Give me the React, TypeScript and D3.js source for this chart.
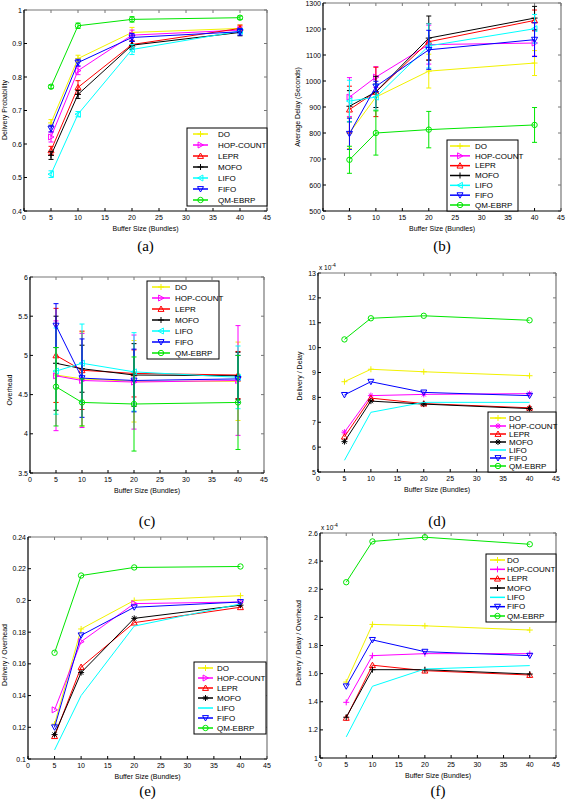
import React from "react";
import * as d3 from "d3";

const bufferSizes = [5, 10, 20, 40];
const seriesNames = ["DO", "HOP-COUNT", "LEPR", "MOFO", "LIFO", "FIFO", "QM-EBRP"];
const seriesColors = ["#f2f200", "#ff00ff", "#ff0000", "#000000", "#00ffff", "#0000ff", "#00e600"];
const xTicks = [0, 5, 10, 15, 20, 25, 30, 35, 40, 45];

// (a) Delivery Probability
const probValues = [
  [0.663, 0.855, 0.933, 0.945],
  [0.621, 0.819, 0.925, 0.94],
  [0.581, 0.769, 0.897, 0.945],
  [0.566, 0.748, 0.895, 0.933],
  [0.51, 0.689, 0.882, 0.937],
  [0.646, 0.843, 0.918, 0.935],
  [0.771, 0.953, 0.972, 0.977],
];
const probErrors = [
  [0.01, 0.01, 0.015, 0.01],
  [0.015, 0.012, 0.015, 0.01],
  [0.012, 0.02, 0.01, 0.01],
  [0.012, 0.012, 0.012, 0.01],
  [0.01, 0.008, 0.015, 0.008],
  [0.01, 0.01, 0.012, 0.01],
  [0.005, 0.008, 0.008, 0.005],
];
const probTicks = [0.4, 0.5, 0.6, 0.7, 0.8, 0.9, 1];

// (b) Average Delay
const delayValues = [
  [800, 938, 1038, 1069],
  [938, 1015, 1140, 1146],
  [890, 958, 1151, 1233],
  [903, 958, 1165, 1242],
  [923, 938, 1135, 1201],
  [797, 979, 1120, 1159],
  [697, 800, 813, 831],
];
const delayErrors = [
  [60, 50, 65, 48],
  [75, 40, 75, 50],
  [90, 95, 70, 40],
  [60, 60, 85, 45],
  [80, 50, 85, 55],
  [60, 20, 75, 65],
  [52, 85, 70, 67],
];
const delayTicks = [500, 600, 700, 800, 900, 1000, 1100, 1200, 1300];

// (c) Overhead
const overheadValues = [
  [4.75, 4.7, 4.67, 4.67],
  [4.74, 4.68, 4.66, 4.68],
  [5.0, 4.81, 4.77, 4.75],
  [4.9, 4.83, 4.75, 4.74],
  [4.8, 4.9, 4.79, 4.72],
  [5.38, 4.71, 4.68, 4.7],
  [4.6, 4.4, 4.38, 4.4],
];
const overheadErrors = [
  [0.35, 0.6, 0.52, 0.5],
  [0.7, 0.6, 0.6, 0.7],
  [0.6, 0.5, 0.3, 0.3],
  [0.6, 0.3, 0.4, 0.3],
  [0.55, 0.5, 0.5, 0.4],
  [0.28, 0.5, 0.4, 0.3],
  [0.5, 0.3, 0.6, 0.6],
];
const overheadTicks = [3.5, 4, 4.5, 5, 5.5, 6];

// (d) Delivery / Delay (x 10^-4)
const ratioDelayValues = [
  [8.63, 9.13, 9.03, 8.87],
  [6.6, 8.07, 8.12, 8.15],
  [6.42, 7.97, 7.75, 7.58],
  [6.22, 7.85, 7.73, 7.55],
  [5.47, 7.4, 7.8, 7.8],
  [8.1, 8.63, 8.2, 8.07],
  [10.33, 11.18, 11.28, 11.1],
];
const ratioDelayTicks = [5, 6, 7, 8, 9, 10, 11, 12, 13];

// (e) Delivery / Overhead
const ratioOverheadValues = [
  [0.122, 0.182, 0.2, 0.203],
  [0.131, 0.174, 0.198, 0.199],
  [0.1144, 0.158, 0.186, 0.1957],
  [0.1154, 0.1545, 0.1887, 0.197],
  [0.1057, 0.14, 0.1838, 0.1978],
  [0.12, 0.178, 0.1957, 0.199],
  [0.167, 0.2157, 0.2208, 0.2214],
];
const ratioOverheadTicks = [0.1, 0.12, 0.14, 0.16, 0.18, 0.2, 0.22, 0.24];

// (f) Delivery / Delay / Overhead (x 10^-4)
const ratioBothValues = [
  [1.54, 1.95, 1.94, 1.91],
  [1.396, 1.728, 1.742, 1.742],
  [1.285, 1.66, 1.621, 1.59],
  [1.29, 1.628, 1.628, 1.597],
  [1.15, 1.51, 1.633, 1.657],
  [1.51, 1.84, 1.756, 1.728],
  [2.25, 2.54, 2.57, 2.52],
];
const ratioBothTicks = [1, 1.2, 1.4, 1.6, 1.8, 2, 2.2, 2.4, 2.6];

type LegendBox = { x: number; y: number; w: number; h: number; l0: number; l1: number; tx: number };
type PanelProps = {
  left: number; right: number; top: number; bottom: number;
  ticks: number[]; values: number[][]; errors?: number[][];
  markers: string[]; ylabel: string; ylx: number; yly: number;
  caption: string; capY: number; legend: LegendBox; exponent?: boolean;
};

const sans = "Liberation Sans, Arial, sans-serif";

function Marker({ type, x, y, color, s = 3 }: { type: string; x: number; y: number; color: string; s?: number }) {
  const common = { fill: "none", stroke: color, strokeWidth: 1 };
  if (type === "+") return <path d={`M${x - s},${y}H${x + s}M${x},${y - s}V${y + s}`} {...common} />;
  if (type === "*")
    return <path d={`M${x - s},${y}H${x + s}M${x},${y - s}V${y + s}M${x - s * 0.7},${y - s * 0.7}L${x + s * 0.7},${y + s * 0.7}M${x - s * 0.7},${y + s * 0.7}L${x + s * 0.7},${y - s * 0.7}`} {...common} />;
  if (type === "o") return <circle cx={x} cy={y} r={s * 0.9} {...common} />;
  if (type === "^") return <path d={`M${x},${y - s}L${x + s},${y + s * 0.8}L${x - s},${y + s * 0.8}Z`} {...common} />;
  if (type === "v") return <path d={`M${x},${y + s}L${x + s},${y - s * 0.8}L${x - s},${y - s * 0.8}Z`} {...common} />;
  if (type === ">") return <path d={`M${x + s},${y}L${x - s * 0.8},${y - s}L${x - s * 0.8},${y + s}Z`} {...common} />;
  if (type === "<") return <path d={`M${x - s},${y}L${x + s * 0.8},${y - s}L${x + s * 0.8},${y + s}Z`} {...common} />;
  return null;
}

function Panel(p: PanelProps) {
  const x = d3.scaleLinear().domain([0, 45]).range([p.left, p.right]);
  const y = d3.scaleLinear().domain([p.ticks[0], p.ticks[p.ticks.length - 1]]).range([p.bottom, p.top]);
  const line = d3.line<number>().x((_, i) => x(bufferSizes[i])).y((v) => y(v));
  const fmt = (v: number) => String(+v.toFixed(3));
  const tl = 3;
  const midX = (p.left + p.right) / 2;
  return (
    <g>
      {/* ticks */}
      {xTicks.map((t) => (
        <g key={"x" + t}>
          <line x1={x(t)} x2={x(t)} y1={p.bottom} y2={p.bottom - tl} stroke="#000" />
          <line x1={x(t)} x2={x(t)} y1={p.top} y2={p.top + tl} stroke="#777" />
          <text x={x(t)} y={p.bottom + 9} fontSize={7} fontFamily={sans} textAnchor="middle">{t}</text>
        </g>
      ))}
      {p.ticks.map((t) => (
        <g key={"y" + t}>
          <line x1={p.left} x2={p.left + tl} y1={y(t)} y2={y(t)} stroke="#000" />
          <line x1={p.right} x2={p.right - tl} y1={y(t)} y2={y(t)} stroke="#777" />
          <text x={p.left - 2} y={y(t) + 2.5} fontSize={7} fontFamily={sans} textAnchor="end">{fmt(t)}</text>
        </g>
      ))}
      {/* box */}
      <line x1={p.left} x2={p.right} y1={p.top} y2={p.top} stroke="#777" strokeWidth={1.2} />
      <line x1={p.right} x2={p.right} y1={p.top} y2={p.bottom} stroke="#777" strokeWidth={1.2} />
      <line x1={p.left} x2={p.left} y1={p.top} y2={p.bottom} stroke="#000" strokeWidth={1.2} />
      <line x1={p.left} x2={p.right} y1={p.bottom} y2={p.bottom} stroke="#000" strokeWidth={1.2} />
      {/* series */}
      {p.values.map((vals, si) => (
        <g key={si}>
          <path d={line(vals) || ""} fill="none" stroke={seriesColors[si]} strokeWidth={1} />
          {p.errors &&
            vals.map((v, i) => {
              const cx = x(bufferSizes[i]);
              const e = p.errors![si][i];
              const y0 = y(v - e), y1 = y(v + e);
              return (
                <path key={i} d={`M${cx},${y0}V${y1}M${cx - 2.5},${y0}H${cx + 2.5}M${cx - 2.5},${y1}H${cx + 2.5}`} stroke={seriesColors[si]} fill="none" strokeWidth={1} />
              );
            })}
          {vals.map((v, i) => (
            <Marker key={"m" + i} type={p.markers[si]} x={x(bufferSizes[i])} y={y(v)} color={seriesColors[si]} />
          ))}
        </g>
      ))}
      {/* labels */}
      <text x={midX} y={p.bottom + 20} fontSize={7} fontFamily={sans} textAnchor="middle">Buffer Size (Bundles)</text>
      <text transform={`translate(${p.ylx},${p.yly}) rotate(-90)`} fontSize={7} fontFamily={sans} textAnchor="middle" dy="0.35em">{p.ylabel}</text>
      {p.exponent && (
        <text x={p.left + 1} y={p.top - 3} fontSize={6.5} fontFamily={sans}>
          x 10<tspan dy={-3} fontSize={5}>-4</tspan>
        </text>
      )}
      <text x={midX} y={p.capY} fontSize={15} fontFamily="Liberation Serif, Times New Roman, serif" textAnchor="middle">{p.caption}</text>
      {/* legend */}
      <rect x={p.legend.x} y={p.legend.y} width={p.legend.w} height={p.legend.h} fill="#fff" stroke="#000" strokeWidth={1} />
      {seriesNames.map((n, i) => {
        const ly = p.legend.y + 6 + (i * (p.legend.h - 12)) / 6;
        const lx0 = p.legend.x + p.legend.l0, lx1 = p.legend.x + p.legend.l1;
        return (
          <g key={n}>
            <line x1={lx0} x2={lx1} y1={ly} y2={ly} stroke={seriesColors[i]} strokeWidth={1.5} />
            <Marker type={p.markers[i]} x={(lx0 + lx1) / 2} y={ly} color={seriesColors[i]} />
            <text x={p.legend.x + p.legend.tx} y={ly + 2.8} fontSize={8} fontFamily={sans}>{n}</text>
          </g>
        );
      })}
    </g>
  );
}

const errMarkers = ["+", ">", "^", "+", "<", "v", "o"];

export default function App() {
  return (
    <svg width={566} height={801} style={{ position: "absolute", left: 0, top: 0, background: "#fff" }}>
      <rect width={566} height={801} fill="#fff" />
      <Panel left={24} right={267} top={10} bottom={211} ticks={probTicks} values={probValues} errors={probErrors}
        markers={errMarkers} ylabel="Delivery Probability" ylx={5} yly={110} caption="(a)" capY={251}
        legend={{ x: 187, y: 128, w: 80, h: 78, l0: 6, l1: 21, tx: 31 }} />
      <Panel left={323} right={561} top={3} bottom={211} ticks={delayTicks} values={delayValues} errors={delayErrors}
        markers={errMarkers} ylabel="Average Delay (Seconds)" ylx={298} yly={107} caption="(b)" capY={251}
        legend={{ x: 447, y: 140, w: 71, h: 71, l0: 3, l1: 23, tx: 28 }} />
      <Panel left={30} right={264} top={277} bottom={473} ticks={overheadTicks} values={overheadValues} errors={overheadErrors}
        markers={errMarkers} ylabel="Overhead" ylx={10} yly={390} caption="(c)" capY={526}
        legend={{ x: 147, y: 281, w: 72, h: 78, l0: 5, l1: 23, tx: 28 }} />
      <Panel left={318} right={556} top={273} bottom={472} ticks={ratioDelayTicks} values={ratioDelayValues}
        markers={["+", "*", "^", "*", "", "v", "o"]} ylabel="Delivery / Delay" ylx={300} yly={376} caption="(d)" capY={526}
        legend={{ x: 488, y: 412, w: 68, h: 60, l0: 2, l1: 18, tx: 21 }} exponent />
      <Panel left={28} right={267} top={537} bottom={759} ticks={ratioOverheadTicks} values={ratioOverheadValues}
        markers={["+", ">", "^", "*", "", "v", "o"]} ylabel="Delivery / Overhead" ylx={5} yly={655} caption="(e)" capY={796}
        legend={{ x: 194, y: 662, w: 72, h: 72, l0: 4, l1: 19, tx: 23 }} />
      <Panel left={320} right={556} top={533} bottom={758} ticks={ratioBothTicks} values={ratioBothValues}
        markers={["+", "+", "^", "+", "", "v", "o"]} ylabel="Delivery / Delay / Overhead" ylx={299} yly={643} caption="(f)" capY={796}
        legend={{ x: 486, y: 554, w: 70, h: 68, l0: 4, l1: 19, tx: 21 }} exponent />
    </svg>
  );
}
